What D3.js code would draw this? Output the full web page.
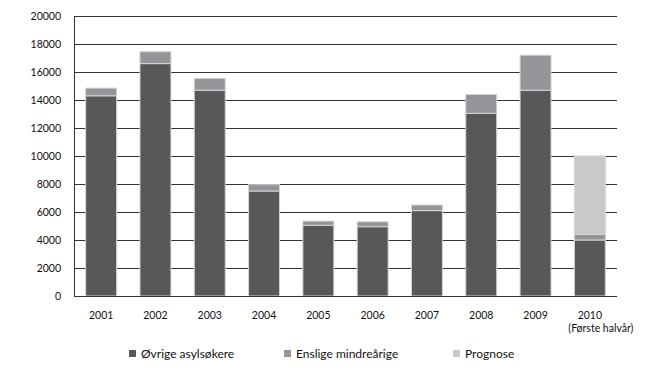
<!DOCTYPE html>
<meta charset="utf-8">
<style>
body { margin: 0; background: #fff; }
.chart text { font: 10.5px Lato, sans-serif; fill: #111; }
.chart .legend text { font-size: 12px; }
.grid line { stroke: #333; stroke-width: 1; shape-rendering: crispEdges; }
.grid path { display: none; }
.bars rect { stroke: #d4d4d4; stroke-width: 1; }
</style>
<svg class="chart"></svg>
<script src="https://d3js.org/d3.v7.min.js"></script>
<script>

var years = ["2001","2002","2003","2004","2005","2006","2007","2008","2009","2010"];
var ovrige = [14300,16600,14700,7500,5050,4950,6100,13050,14700,4000];
var enslige = [550,850,850,450,300,350,400,1350,2500,400];
var prognose = [0,0,0,0,0,0,0,0,0,5600];
var yTicks = [0,2000,4000,6000,8000,10000,12000,14000,16000,18000,20000];
var seriesNames = ["Øvrige asylsøkere","Enslige mindreårige","Prognose"];
var colors = ["#58585a","#939598","#c8c9cb"];

var margin = {top: 16, right: 33, bottom: 88, left: 74},
    width = 650 - margin.left - margin.right,
    height = 384 - margin.top - margin.bottom;

var svg = d3.select(".chart")
    .attr("width", 650)
    .attr("height", 384);

var chart = svg.append("g")
    .attr("transform", "translate(" + margin.left + "," + margin.top + ")");

var x = d3.scaleBand()
    .domain(years)
    .range([0, width])
    .paddingInner(0.43)
    .paddingOuter(0.215);

var y = d3.scaleLinear()
    .domain([0, 20000])
    .range([height, 0]);

// gridlines
chart.append("g")
    .attr("class", "grid")
    .call(d3.axisLeft(y).tickValues(yTicks).tickSize(-width).tickFormat(""));

// y labels
chart.append("g")
    .selectAll("text")
    .data(yTicks)
    .enter()
    .append("text")
        .attr("x", -13)
        .attr("y", function(d){ return y(d); })
        .attr("dy", "0.35em")
        .style("text-anchor", "end")
        .text(function(d){ return d; });

// stacked data
var rows = years.map(function(yr, i){
    return {year: yr, a: ovrige[i], b: enslige[i], c: prognose[i]};
});
var stack = d3.stack().keys(["a","b","c"])(rows);

chart.append("g")
    .attr("class", "bars")
    .selectAll("g")
    .data(stack)
    .enter()
    .append("g")
        .attr("fill", function(d, i){ return colors[i]; })
    .selectAll("rect")
    .data(function(d){ return d.filter(function(p){ return p[1] > p[0]; }); })
    .enter()
    .append("rect")
        .attr("x", function(d){ return x(d.data.year); })
        .attr("y", function(d){ return y(d[1]); })
        .attr("width", x.bandwidth())
        .attr("height", function(d){ return y(d[0]) - y(d[1]); });

// axis lines
chart.append("line")
    .attr("x1", 0).attr("x2", 0)
    .attr("y1", 0).attr("y2", height)
    .attr("stroke", "#333")
    .attr("shape-rendering", "crispEdges");
chart.append("line")
    .attr("x1", 0).attr("x2", width)
    .attr("y1", height).attr("y2", height)
    .attr("stroke", "#333")
    .attr("shape-rendering", "crispEdges");

// x labels
chart.append("g")
    .selectAll("text")
    .data(years)
    .enter()
    .append("text")
        .attr("x", function(d){ return x(d) + x.bandwidth()/2; })
        .attr("y", height + 23)
        .style("text-anchor", "middle")
        .text(function(d){ return d; });
chart.append("text")
    .attr("x", x("2010") + x.bandwidth()/2 + 11)
    .attr("y", height + 36)
    .style("text-anchor", "middle")
    .text("(Første halvår)");

// legend
var legendX = [129, 284, 453];
var legend = svg.append("g")
    .attr("class", "legend")
    .selectAll("g")
    .data(seriesNames)
    .enter()
    .append("g")
        .attr("transform", function(d, i){ return "translate(" + legendX[i] + ",350)"; });
legend.append("rect")
    .attr("width", 7).attr("height", 7)
    .attr("fill", function(d, i){ return colors[i]; });
legend.append("text")
    .attr("x", 12)
    .attr("y", 4)
    .attr("dy", "0.35em")
    .text(function(d){ return d; });
</script>
